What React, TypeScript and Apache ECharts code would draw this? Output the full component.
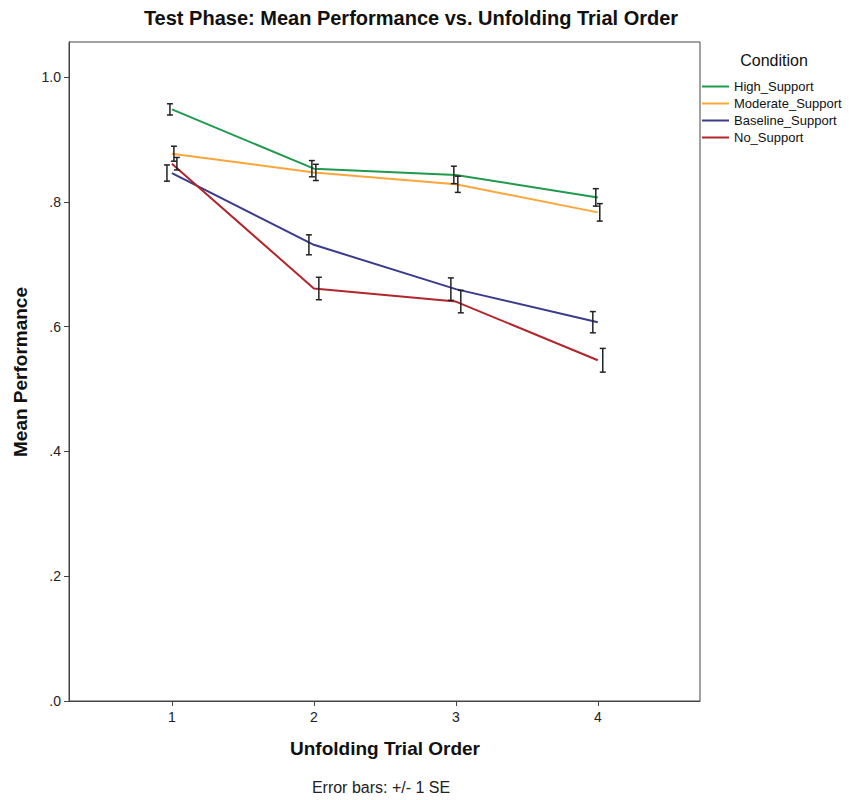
import React, { useEffect, useRef } from "react";
import * as echarts from "echarts";

const trialOrder = [1, 2, 3, 4];
const seriesNames = ["High_Support", "Moderate_Support", "Baseline_Support", "No_Support"];
const highSupport = [0.948, 0.853, 0.843, 0.807];
const highSupportSE = [0.009, 0.013, 0.014, 0.014];
const moderateSupport = [0.877, 0.847, 0.828, 0.783];
const moderateSupportSE = [0.012, 0.013, 0.013, 0.014];
const baselineSupport = [0.846, 0.731, 0.66, 0.607];
const baselineSupportSE = [0.013, 0.016, 0.018, 0.017];
const noSupport = [0.861, 0.661, 0.64, 0.546];
const noSupportSE = [0.01, 0.018, 0.018, 0.019];
const yTicks = [0, 0.2, 0.4, 0.6, 0.8, 1.0];

const colors = ["#1f9a4c", "#fba53a", "#3a3b8e", "#b3252c"];
const dodge = [-0.014, 0.014, -0.035, 0.035];

const FONT = "Liberation Sans, Arial, sans-serif";

export default function App() {
  const ref = useRef<HTMLDivElement>(null);
  useEffect(() => {
    if (!ref.current) return;
    const chart = echarts.init(ref.current, null, { renderer: "svg" });
    const means = [highSupport, moderateSupport, baselineSupport, noSupport];
    const ses = [highSupportSE, moderateSupportSE, baselineSupportSE, noSupportSE];

    const lineSeries = seriesNames.map((name, i) => ({
      name,
      type: "line",
      data: trialOrder.map((x, j) => [x, means[i][j]]),
      symbol: "none",
      lineStyle: { color: colors[i], width: 2 },
      itemStyle: { color: colors[i] },
      z: 2,
    }));

    const errSeries = seriesNames.map((name, i) => ({
      name: name + "_err",
      type: "custom",
      data: trialOrder.map((x, j) => [x + dodge[i], means[i][j] - ses[i][j], means[i][j] + ses[i][j]]),
      renderItem: (params: any, api: any) => {
        const x = api.value(0);
        const lo = api.coord([x, api.value(1)]);
        const hi = api.coord([x, api.value(2)]);
        const cap = 3;
        const style = { stroke: "#222", lineWidth: 1.5 };
        return {
          type: "group",
          children: [
            { type: "line", shape: { x1: lo[0], y1: lo[1], x2: hi[0], y2: hi[1] }, style },
            { type: "line", shape: { x1: lo[0] - cap, y1: lo[1], x2: lo[0] + cap, y2: lo[1] }, style },
            { type: "line", shape: { x1: hi[0] - cap, y1: hi[1], x2: hi[0] + cap, y2: hi[1] }, style },
          ],
        };
      },
      z: 5,
      silent: true,
    }));

    chart.setOption({
      animation: false,
      backgroundColor: "#ffffff",
      textStyle: { fontFamily: FONT },
      grid: {
        left: 69,
        top: 42,
        width: 631,
        height: 659,
        show: true,
        borderColor: "#444",
        borderWidth: 1,
        backgroundColor: "transparent",
      },
      legend: {
        orient: "vertical",
        left: 702,
        top: 80,
        padding: 0,
        itemWidth: 27,
        itemHeight: 2,
        itemGap: 4,
        icon: "rect",
        data: seriesNames,
        textStyle: { fontSize: 13, color: "#111", fontFamily: FONT, lineHeight: 13 },
      },
      xAxis: {
        type: "value",
        min: 0.275,
        max: 4.72,
        axisLine: { show: true, lineStyle: { color: "#444", width: 1 } },
        axisTick: { show: true, customValues: trialOrder, length: 5, lineStyle: { color: "#444" } },
        axisLabel: {
          customValues: trialOrder,
          formatter: (v: number) => String(Math.round(v)),
          fontSize: 14,
          color: "#222",
          margin: 9,
          fontFamily: FONT,
        },
        splitLine: { show: false },
      },
      yAxis: {
        type: "value",
        min: 0,
        max: 1.056,
        axisLine: { show: true, lineStyle: { color: "#444", width: 1 } },
        axisTick: { show: true, customValues: yTicks, length: 5, lineStyle: { color: "#444" } },
        axisLabel: {
          customValues: yTicks,
          formatter: (v: number) => v.toFixed(1).replace(/^0/, ""),
          fontSize: 14,
          color: "#222",
          margin: 8,
          fontFamily: FONT,
        },
        splitLine: { show: false },
      },
      graphic: [
        {
          type: "text",
          x: 411,
          y: 18,
          style: {
            text: "Test Phase: Mean Performance vs. Unfolding Trial Order",
            font: "bold 20px " + FONT,
            fill: "#111",
            textAlign: "center",
            textVerticalAlign: "middle",
          },
        },
        {
          type: "text",
          x: 774,
          y: 60,
          style: {
            text: "Condition",
            font: "16px " + FONT,
            fill: "#111",
            textAlign: "center",
            textVerticalAlign: "middle",
          },
        },
        {
          type: "text",
          x: 385,
          y: 748,
          style: {
            text: "Unfolding Trial Order",
            font: "bold 19px " + FONT,
            fill: "#111",
            textAlign: "center",
            textVerticalAlign: "middle",
          },
        },
        {
          type: "text",
          x: 381,
          y: 787,
          style: {
            text: "Error bars: +/- 1 SE",
            font: "16px " + FONT,
            fill: "#222",
            textAlign: "center",
            textVerticalAlign: "middle",
          },
        },
        {
          type: "text",
          x: 20,
          y: 372,
          rotation: Math.PI / 2,
          style: {
            text: "Mean Performance",
            font: "bold 19px " + FONT,
            fill: "#111",
            textAlign: "center",
            textVerticalAlign: "middle",
          },
        },
      ],
      series: [...lineSeries, ...errSeries],
    });
    return () => chart.dispose();
  }, []);
  return (
    <div
      ref={ref}
      style={{ position: "fixed", left: 0, top: 0, width: 849, height: 800, background: "#fff" }}
    />
  );
}
